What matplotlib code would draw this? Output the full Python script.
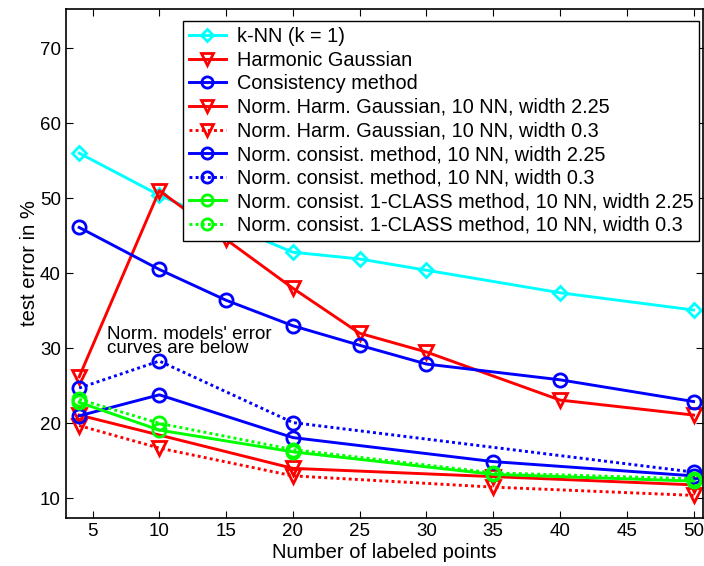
import numpy as np
import matplotlib
matplotlib.use("Agg")
import matplotlib.pyplot as plt

plt.rcParams['font.family'] = ['Liberation Sans', 'DejaVu Sans']

# x values for the plain methods and for the normalized ones
x_full = [4, 10, 15, 20, 25, 30, 40, 50]
x_norm = [4, 10, 20, 35, 50]
x_norm_cons_03 = [4, 10, 20, 50]
x_norm_harm_225 = [4, 20, 35, 50]

knn = [56.0, 50.4, 46.5, 42.8, 41.9, 40.4, 37.4, 35.1]
harm_gauss = [26.2, 51.0, 44.5, 38.0, 32.0, 29.5, 23.1, 21.1]
consistency = [46.1, 40.5, 36.4, 33.0, 30.4, 27.9, 25.8, 22.9]
norm_harm_225 = [21.1, 14.0, 12.9, 11.8]
norm_harm_03 = [19.7, 16.7, 13.0, 11.5, 10.4]
norm_cons_225 = [21.0, 23.8, 18.1, 14.9, 13.0]
norm_cons_03 = [24.7, 28.3, 20.1, 13.5]
norm_1class_225 = [22.8, 19.1, 16.2, 13.2, 12.3]
norm_1class_03 = [23.2, 20.0, 16.5, 13.4, 12.6]

labels = ["k-NN (k = 1)",
          "Harmonic Gaussian",
          "Consistency method",
          "Norm. Harm. Gaussian, 10 NN, width 2.25",
          "Norm. Harm. Gaussian, 10 NN, width 0.3",
          "Norm. consist. method, 10 NN, width 2.25",
          "Norm. consist. method, 10 NN, width 0.3",
          "Norm. consist. 1-CLASS method, 10 NN, width 2.25",
          "Norm. consist. 1-CLASS method, 10 NN, width 0.3"]

cyan = (0, 1, 1)
red = (1, 0, 0)
blue = (0, 0, 1)
green = (0, 1, 0)

series = [
    (x_full, knn, cyan, '-', 'D'),
    (x_full, harm_gauss, red, '-', 'v'),
    (x_full, consistency, blue, '-', 'o'),
    (x_norm_harm_225, norm_harm_225, red, '-', 'v'),
    (x_norm, norm_harm_03, red, ':', 'v'),
    (x_norm, norm_cons_225, blue, '-', 'o'),
    (x_norm_cons_03, norm_cons_03, blue, ':', 'o'),
    (x_norm, norm_1class_225, green, '-', 'o'),
    (x_norm, norm_1class_03, green, ':', 'o'),
]
msize = {'D': 7.5, 'v': 10.5, 'o': 9.5}

fig = plt.figure(figsize=(7.04, 5.66), dpi=100)
ax = fig.add_axes([0.0935, 0.085, 0.905, 0.899])

for (xs, ys, col, ls, mk), lab in zip(series, labels):
    style = (0, (1.0, 1.1)) if ls == ':' else '-'
    ax.plot(xs, ys, color=col, linestyle=style, linewidth=2.1, marker=mk,
            markersize=msize[mk], markerfacecolor='none',
            markeredgecolor=col, markeredgewidth=2, label=lab)

ax.set_xlim(3.0, 50.7)
ax.set_ylim(7.4, 75.2)
ax.set_xticks(np.arange(5, 51, 5))
ax.set_yticks(np.arange(10, 71, 10))
ax.tick_params(direction='in', top=True, right=True, labelsize=13.5, length=5)
for sp in ax.spines.values():
    sp.set_linewidth(1.2)

ax.set_xlabel("Number of labeled points", fontsize=14.5, labelpad=2)
ax.set_ylabel("test error in %", fontsize=14.5, labelpad=1)

ax.text(6.1, 30.9, "Norm. models' error\ncurves are below", fontsize=13.5,
        linespacing=0.7, va='center', ha='left')

leg = ax.legend(loc='upper left', bbox_to_anchor=(0.184, 0.976), fontsize=14.3,
                fancybox=False, edgecolor='black', framealpha=1,
                handlelength=1.85, handletextpad=0.55, labelspacing=0.23,
                borderpad=0.3, borderaxespad=0, markerscale=0.85)
leg.get_frame().set_linewidth(1.0)

fig.savefig("out.png", dpi=100)
